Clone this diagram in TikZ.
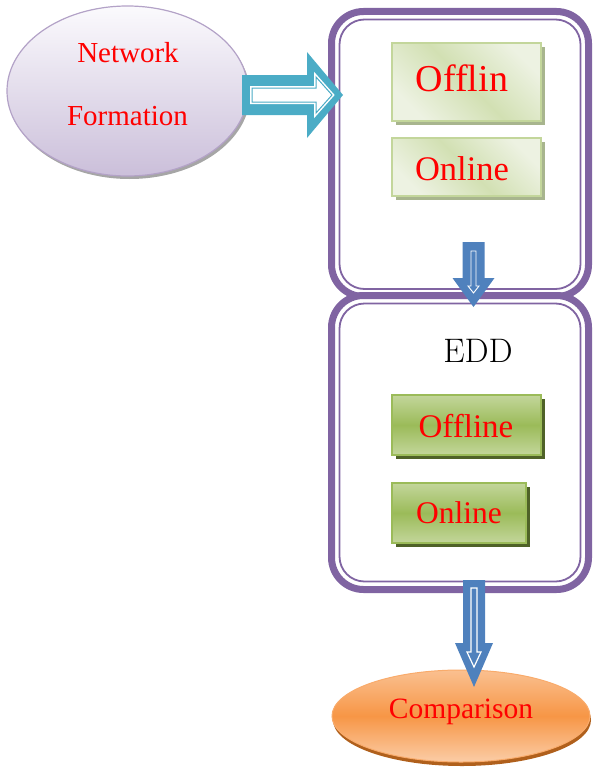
\documentclass[tikz,border=0pt]{standalone}
\usepackage{fontspec}
\newfontfamily\lib{Liberation Serif}
\usetikzlibrary{shapes.geometric}
\definecolor{purp}{HTML}{8064A2}
\definecolor{teal1}{HTML}{4BACC6}
\definecolor{blue1}{HTML}{4F81BD}
\definecolor{lavtop}{HTML}{FBFAFD}
\definecolor{lavbot}{HTML}{CBBFDA}
\definecolor{lavline}{HTML}{B3A2C7}
\definecolor{lgreen}{HTML}{C3D69B}
\definecolor{lgreenA}{HTML}{EDF2E2}
\definecolor{lgreenB}{HTML}{D2E0B3}
\definecolor{lshadow}{HTML}{A8B58E}
\definecolor{mgreen}{HTML}{9BBB59}
\definecolor{dshadow}{HTML}{4F6228}
\definecolor{orA}{HTML}{FAC090}
\definecolor{orB}{HTML}{F79646}
\definecolor{orshadow}{HTML}{B0601C}
\tikzset{
  purpbox/.style={draw=purp, line width=7pt, rounded corners=32pt, fill=white, inner sep=0pt, outer sep=0pt},
  purpin/.style={draw=purp, line width=1.8pt, rounded corners=25pt, inner sep=0pt, outer sep=0pt},
  redtxt/.style={anchor=base, text=red, inner sep=0pt},
  lightbox/.style={draw=lgreen, line width=1.5pt, left color=lgreenA, right color=lgreenA, middle color=lgreenB, shading angle=-45, inner sep=0pt},
  greenbox/.style={draw=mgreen, line width=1.5pt, top color=lgreen, bottom color=lgreen, middle color=mgreen, inner sep=0pt},
  blockarrow/.style={fill=blue1, draw=none},
}
\begin{document}
\begin{tikzpicture}[x=1pt,y=-1pt]
\useasboundingbox (0,0) rectangle (593,776);

% purple container boxes
\node[purpbox, minimum width=257pt, minimum height=285pt] (b1) at (460,154) {};
\node[purpin, minimum width=241pt, minimum height=269.5pt] (b1in) at (460,154.25) {};
\node[purpbox, minimum width=257pt, minimum height=294pt] (b2) at (460,442.5) {};
\node[purpin, minimum width=241pt, minimum height=278pt] (b2in) at (460,442.5) {};

% Network Formation ellipse
\fill[gray!70] (129.5,94) ellipse (120.5 and 85);
\node[ellipse, draw=lavline, line width=1.2pt, top color=lavtop, bottom color=lavbot, minimum width=241pt, minimum height=170pt, inner sep=0pt] (nf) at (127.5,91) {};
\node[redtxt, font=\lib\fontsize{29}{29}\selectfont] (nf1) at (128,63) {Network};
\node[redtxt, font=\lib\fontsize{29}{29}\selectfont] (nf2) at (127.5,125) {Formation};

% teal arrow
\fill[teal1] (242,75) -- (307,75) -- (307,52) -- (343,95) -- (307,138) -- (307,115) -- (242,115) -- cycle;
\draw[white, fill=white, line width=4pt, line join=miter] (252,88) -- (316,88) -- (316,77) -- (332,95) -- (316,113) -- (316,102) -- (252,102) -- cycle;
\draw[teal1, line width=1pt] (252,88) -- (316,88) -- (316,77) -- (332,95) -- (316,113) -- (316,102) -- (252,102) -- cycle;

% top boxes
\fill[lshadow] (396,47) rectangle (545,125);
\node[lightbox, minimum width=149pt, minimum height=78pt] (off1) at (466.5,82) {};
\node[redtxt, font=\lib\fontsize{38}{38}\selectfont] (off1t) at (462,91) {Offlin};
\fill[lshadow] (396,142) rectangle (545,200);
\node[lightbox, minimum width=149pt, minimum height=58pt] (on1) at (466.5,167) {};
\node[redtxt, font=\lib\fontsize{34.5}{34.5}\selectfont] (on1t) at (462,180) {Online};

% EDD
\node[anchor=base, inner sep=0pt, font=\fontsize{34}{34}\selectfont] (edd) at (478,362) {EDD};

% bottom boxes
\fill[dshadow] (396,399) rectangle (545,459);
\node[greenbox, minimum width=149pt, minimum height=60pt] (off2) at (466.5,425) {};
\node[redtxt, font=\lib\fontsize{33}{33}\selectfont] (off2t) at (466,437) {Offline};
\fill[dshadow] (396,487) rectangle (530,547);
\node[greenbox, minimum width=134pt, minimum height=60pt] (on2) at (459,513) {};
\node[redtxt, font=\lib\fontsize{31.5}{31.5}\selectfont] (on2t) at (459,523) {Online};

% Comparison ellipse
\fill[orshadow] (462,720) ellipse (129 and 46);
\node[ellipse, draw=orB!80, line width=1pt, top color=orA, bottom color=orA!80, middle color=orB, minimum width=258pt, minimum height=92pt, inner sep=0pt] (cmp) at (461,716) {};
\node[redtxt, font=\lib\fontsize{29.5}{29.5}\selectfont] (cmpt) at (461,718) {Comparison};

% blue arrows
\fill[blockarrow] (462.5,242) -- (484.5,242) -- (484.5,278) -- (494.5,278) -- (473.5,307) -- (452.5,278) -- (462.5,278) -- cycle;
\draw[white, line width=0.9pt] (471,251) -- (476,251) -- (476,286) -- (479,286) -- (473.5,293) -- (468,286) -- (471,286) -- cycle;
\fill[blockarrow] (463,580) -- (485,580) -- (485,643) -- (493,643) -- (474,687) -- (455,643) -- (463,643) -- cycle;
\draw[white, line width=1.2pt] (471,588) -- (477,588) -- (477,652) -- (481,652) -- (474,667) -- (467,652) -- (471,652) -- cycle;
\end{tikzpicture}
\end{document}
